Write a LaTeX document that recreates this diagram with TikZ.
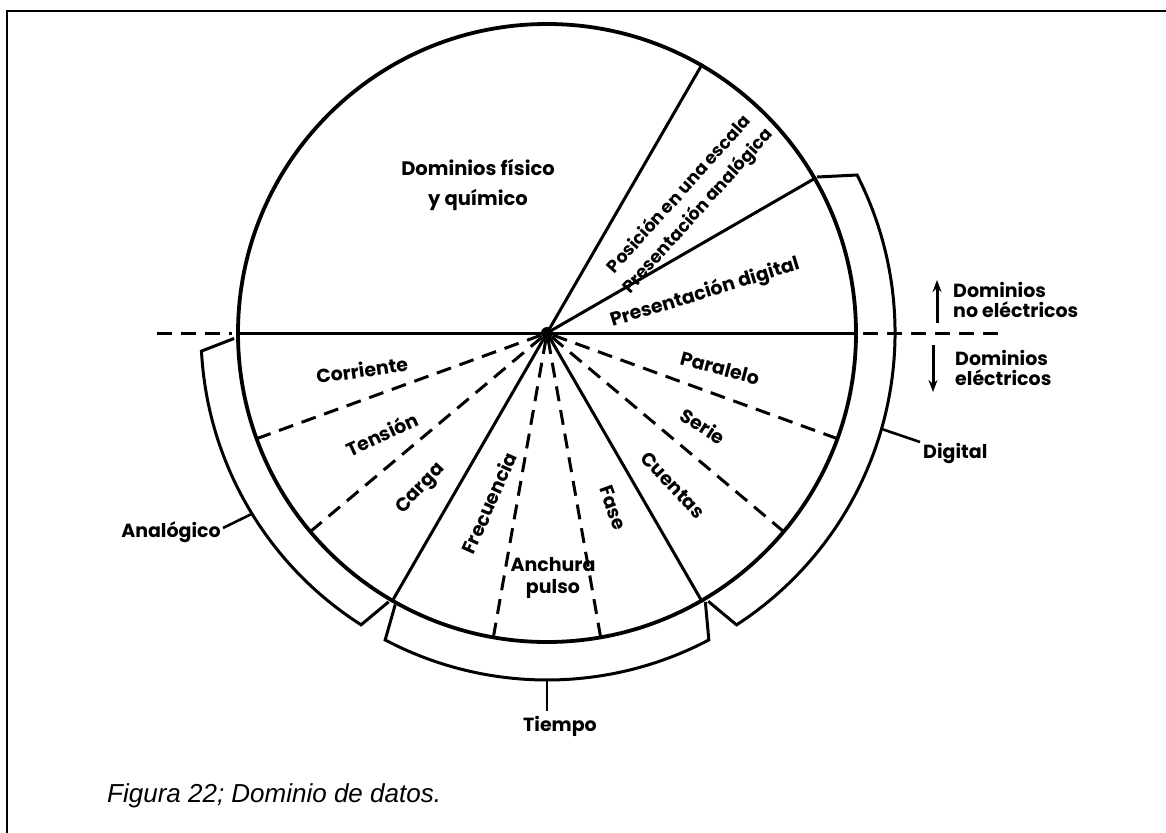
\documentclass[tikz,border=0pt]{standalone}
\usepackage{fontspec}
\setmainfont{Liberation Sans}
\newfontfamily\lblfamily{Poppins}
\newfontfamily\capfamily{Liberation Sans}
\usetikzlibrary{calc,arrows.meta}
\newcommand\lblfont{\lblfamily\bfseries\fontsize{19}{22}\selectfont}
\tikzset{
  frame/.style={line width=2.8pt, line cap=rect},
  pie/.style={circle, draw, line width=3.8pt, minimum size=618pt, inner sep=0pt},
  hub/.style={circle, fill, minimum size=12pt, inner sep=0pt},
  rad/.style={line width=3pt},
  dsh/.style={line width=3pt, dash pattern=on 15pt off 9pt},
  brk/.style={line width=3pt, line join=miter},
  lead/.style={line width=2.6pt},
  lbl/.style={font=\lblfont, inner sep=0pt, align=center},
  side/.style={font=\lblfont, inner sep=0pt, align=left, anchor=west},
  arr/.style={line width=3pt, -{Stealth[length=12pt,width=9pt]}},
}
\begin{document}
\begin{tikzpicture}[x=1pt,y=1pt]
\useasboundingbox (0,0) rectangle (1166,-832);

% outer frame (left and top edges)
\coordinate (f1) at (7,-832);
\coordinate (f2) at (7,-11);
\coordinate (f3) at (1166,-11);
\draw[frame] (f1) -- (f2) -- (f3);

% the disc and its hub
\node[hub] (C) at (547,-333) {};
\node[pie] (pie) at (C) {};

% solid boundaries
\draw[rad] (pie.180) -- (pie.0);
\draw[rad] (C.center) -- (pie.30);
\draw[rad] (C.center) -- (pie.60);
\draw[rad] (C.center) -- (pie.240);
\draw[rad] (C.center) -- (pie.300);

% dashed subdivisions
\foreach \a in {200,220,260,280,320,340}
  \draw[dsh] (C) -- (pie.\a);

% dashed separation between the two domain families
\coordinate (hl1) at (157,-333);
\coordinate (hl2) at (232,-333);
\coordinate (hr1) at (863,-333);
\coordinate (hr2) at (1000,-333);
\draw[dsh] (hl1) -- (hl2);
\draw[dsh] (hr1) -- (hr2);

% brackets round the rim
\draw[brk] ($(C)+(30:312)$) -- ($(C)+(27:348)$)
  arc[start angle=27, end angle=-57, radius=348pt] -- ($(C)+(-59:313)$);
\draw[brk] ($(C)+(181:313)$) -- ($(C)+(183:346)$)
  arc[start angle=183, end angle=237.5, radius=346pt] -- ($(C)+(239.5:312)$);
\draw[brk] ($(C)+(240.8:311)$) -- ($(C)+(242.2:347)$)
  arc[start angle=242.2, end angle=297.8, radius=347pt] -- ($(C)+(300.5:312)$);

% bracket labels and their leaders
\coordinate (dA) at ($(C)+(-16:348)$);
\coordinate (dB) at (920,-442);
\node[lbl, anchor=west] (dig) at (923,-453) {Digital};
\draw[lead] (dA) -- (dB);

\coordinate (aA) at ($(C)+(211.5:346)$);
\coordinate (aB) at (223,-528);
\node[lbl, anchor=east] (ana) at (221,-532) {Analógico};
\draw[lead] (aA) -- (aB);

\coordinate (tA) at ($(C)+(270:347)$);
\coordinate (tB) at (547,-711);
\node[lbl] (tie) at (560,-726) {Tiempo};
\draw[lead] (tA) -- (tB);

% sector labels
\node[lbl, font=\lblfamily\bfseries\fontsize{19.5}{30}\selectfont] (fis) at (478,-185)
  {Dominios físico\\y químico};
\node[lbl, font=\lblfamily\bfseries\fontsize{17.5}{25}\selectfont, rotate=48] (pos) at (689,-203)
  {Posición en una escala\\Presentación analógica};
\node[lbl, rotate=17] (pdig) at (705,-293) {Presentación digital};
\node[lbl, rotate=8] (cor) at (362,-370) {Corriente};
\node[lbl, rotate=25] (ten) at (382,-434) {Tensión};
\node[lbl, rotate=47] (car) at (421,-489) {Carga};
\node[lbl, rotate=66] (fre) at (489,-503) {Frecuencia};
\node[lbl, font=\lblfamily\bfseries\fontsize{19}{22}\selectfont] (anc) at (553,-578) {Anchura\\pulso};
\node[lbl, rotate=-70] (fas) at (613,-508) {Fase};
\node[lbl, rotate=-47] (cue) at (673,-485) {Cuentas};
\node[lbl, rotate=-32] (ser) at (703,-426) {Serie};
\node[lbl, rotate=-15] (par) at (720,-368) {Paralelo};

% domain arrows on the right
\node[side, font=\lblfamily\bfseries\fontsize{19}{20}\selectfont] (noel) at (953,-300) {Dominios\\no eléctricos};
\node[side, font=\lblfamily\bfseries\fontsize{19}{20}\selectfont] (el) at (955,-368) {Dominios\\eléctricos};
\coordinate (up1) at (937,-323);
\coordinate (up2) at (937,-280);
\coordinate (dn1) at (933,-345);
\coordinate (dn2) at (933,-392);
\draw[arr] (up1) -- (up2);
\draw[arr] (dn1) -- (dn2);

% caption
\node[anchor=base west, inner sep=0pt, font=\capfamily\itshape\fontsize{26}{30}\selectfont] (cap)
  at (107,-802) {Figura 22; Dominio de datos.};
\end{tikzpicture}
\end{document}
